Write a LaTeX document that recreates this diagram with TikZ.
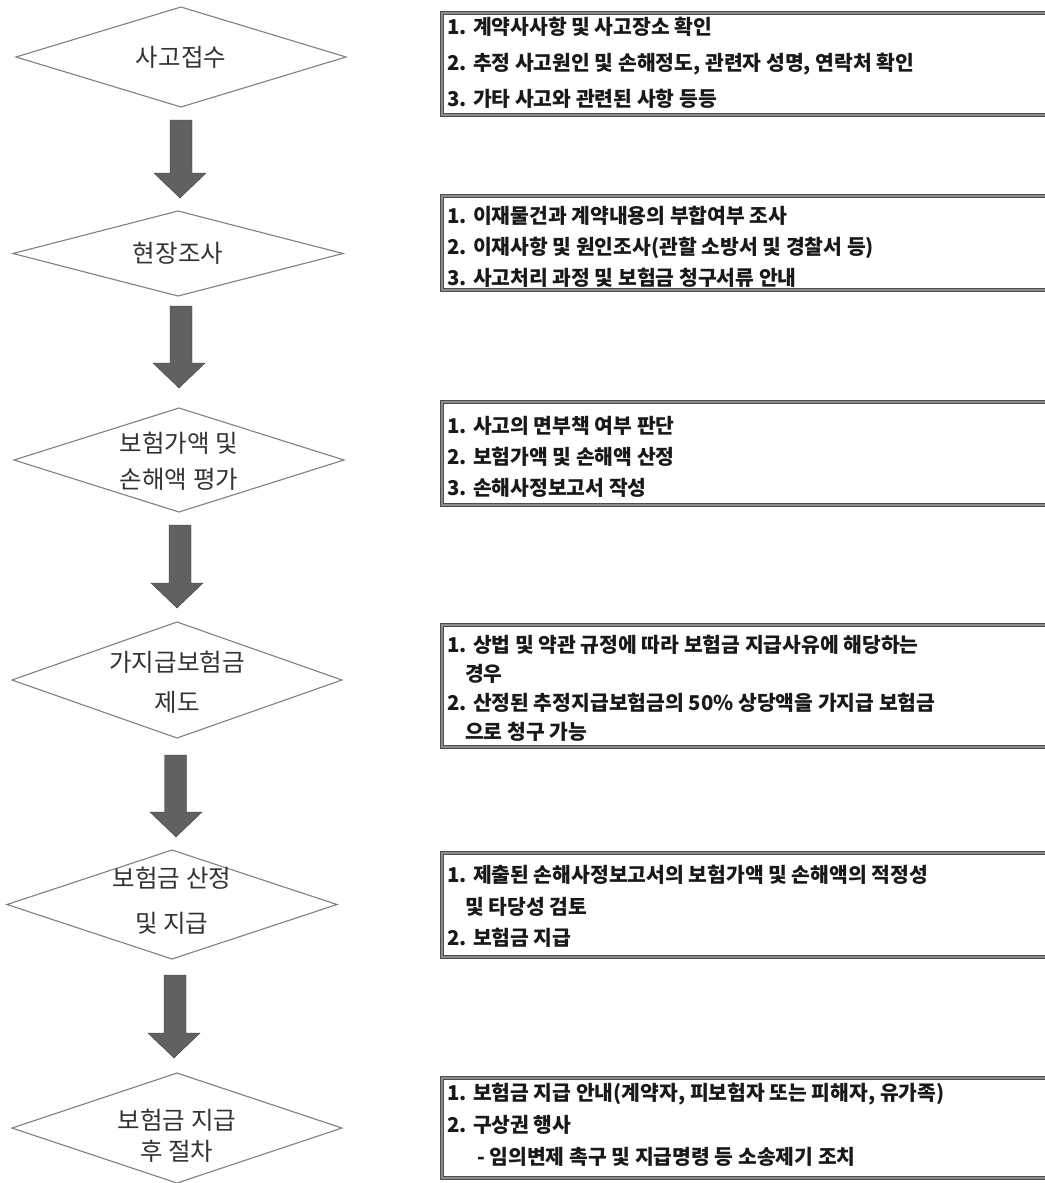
\documentclass[tikz,border=0pt]{standalone}
\usepackage{fontspec}
\newfontfamily\krfont{Noto Sans CJK KR}
\usetikzlibrary{shapes.geometric,calc}
\newcommand\flowarr[2]{%
  \path[blockfill] let \p1=(#1), \p2=(#2) in
    (\x1-11pt,\y1) -- (\x1+11pt,\y1) -- (\x1+11pt,\y2+25pt) -- (\x2+26pt,\y2+25pt)
    -- (\x2,\y2) -- (\x2-26pt,\y2+25pt) -- (\x1-11pt,\y2+25pt) -- cycle;}
\begin{document}
\begin{tikzpicture}[x=1pt,y=-1pt,
  flowdia/.style={diamond, draw=black!50, line width=1.1pt, fill=white, inner sep=0pt, outer sep=0pt, minimum width=330pt},
  dialabel/.style={font=\krfont\fontsize{24.5}{36}\selectfont, text=black!80, align=center, inner sep=0pt},
  infobox/.style={draw=black!70, double=black!45, double distance=1.3pt, line width=0.9pt, minimum width=620pt, anchor=north west, inner sep=0pt, outer sep=0pt},
  infotext/.style={font=\krfont\bfseries\fontsize{20.4}{31}\selectfont, text=black!90, align=left, anchor=north west, inner sep=0pt},
  blockfill/.style={fill=black!62, draw=black!75, line width=0.4pt}
]
\useasboundingbox[fill=white] (0,0) rectangle (1044,1183);

% diamonds
\node[flowdia, minimum height=100pt] (d1) at (181,57) {};
\node[flowdia, minimum height=85pt] (d2) at (178,253.5) {};
\node[flowdia, minimum height=104pt] (d3) at (179,460) {};
\node[flowdia, minimum height=116pt] (d4) at (177,680) {};
\node[flowdia, minimum height=109pt] (d5) at (172,904.5) {};
\node[flowdia, minimum height=110pt] (d6) at (177,1128) {};

\node[dialabel] (l1) at (d1.center) {사고접수};
\node[dialabel] (l2) at (d2.center) {현장조사};
\node[dialabel, font=\krfont\fontsize{24.5}{36}\selectfont] (l3) at ([yshift=-1pt]d3.center) {보험가액 및\\손해액 평가};
\node[dialabel, font=\krfont\fontsize{24.5}{40}\selectfont] (l4) at ([yshift=-2pt]d4.center) {가지급보험금\\제도};
\node[dialabel, font=\krfont\fontsize{24.5}{45}\selectfont] (l5) at ([yshift=4pt]d5.center) {보험금 산정\\및 지급};
\node[dialabel, font=\krfont\fontsize{24.5}{31}\selectfont] (l6) at ([yshift=-7.5pt]d6.center) {보험금 지급\\후 절차};

% block arrows
\coordinate (a1s) at (181,120);   \coordinate (a1t) at (180,198);
\coordinate (a2s) at (181,306);   \coordinate (a2t) at (179,388);
\coordinate (a3s) at (180,525);   \coordinate (a3t) at (177,608);
\coordinate (a4s) at (175.5,755); \coordinate (a4t) at (176,837);
\coordinate (a5s) at (175,975);   \coordinate (a5t) at (174,1058);
\flowarr{a1s}{a1t}
\flowarr{a2s}{a2t}
\flowarr{a3s}{a3t}
\flowarr{a4s}{a4t}
\flowarr{a5s}{a5t}

% info boxes
\node[infobox, minimum height=102pt] (b1) at (442,13) {};
\node[infobox, minimum height=94pt] (b2) at (442,196) {};
\node[infobox, minimum height=103pt] (b3) at (442,402) {};
\node[infobox, minimum height=122pt] (b4) at (442,625) {};
\node[infobox, minimum height=104pt] (b5) at (442,853) {};
\node[infobox, minimum height=100pt] (b6) at (442,1078) {};

\node[infotext, font=\krfont\bfseries\fontsize{20.4}{36}\selectfont] (t1) at (447,17) {1. 계약사사항 및 사고장소 확인\\2. 추정 사고원인 및 손해정도, 관련자 성명, 연락처 확인\\3. 가타 사고와 관련된 사항 등등};
\node[infotext, font=\krfont\bfseries\fontsize{20.4}{31}\selectfont] (t2) at (447,206) {1. 이재물건과 계약내용의 부합여부 조사\\2. 이재사항 및 원인조사(관할 소방서 및 경찰서 등)\\3. 사고처리 과정 및 보험금 청구서류 안내};
\node[infotext, font=\krfont\bfseries\fontsize{20.4}{31}\selectfont] (t3) at (447,416) {1. 사고의 면부책 여부 판단\\2. 보험가액 및 손해액 산정\\3. 손해사정보고서 작성};
\node[infotext, font=\krfont\bfseries\fontsize{20.4}{29}\selectfont] (t4) at (447,635) {1. 상법 및 약관 규정에 따라 보험금 지급사유에 해당하는\\\hspace*{18pt}경우\\2. 산정된 추정지급보험금의 50\% 상당액을 가지급 보험금\\\hspace*{18pt}으로 청구 가능};
\node[infotext, font=\krfont\bfseries\fontsize{20.4}{31.5}\selectfont] (t5) at (447,865) {1. 제출된 손해사정보고서의 보험가액 및 손해액의 적정성\\\hspace*{18pt}및 타당성 검토\\2. 보험금 지급};
\node[infotext, font=\krfont\bfseries\fontsize{20.4}{32}\selectfont] (t6) at (447,1083) {1. 보험금 지급 안내(계약자, 피보험자 또는 피해자, 유가족)\\2. 구상권 행사\\\hspace*{30pt}- 임의변제 촉구 및 지급명령 등 소송제기 조치};
\end{tikzpicture}
\end{document}
